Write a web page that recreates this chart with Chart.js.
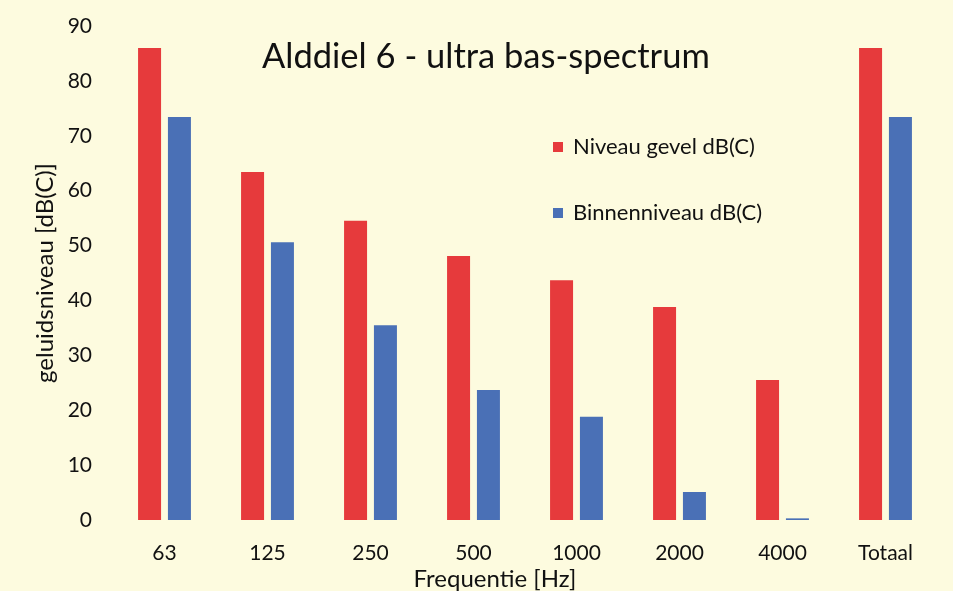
<!DOCTYPE html>
<html lang="nl">
<head>
  <meta charset="UTF-8">
  <title>Alddiel 6 - ultra bas-spectrum</title>
  <script src="https://cdn.jsdelivr.net/npm/chart.js"></script>
  <style>
    html, body { margin: 0; padding: 0; background: #fdfbdf; }
    .wrap { position: relative; width: 953px; height: 591px; font-family: Lato, "Open Sans", sans-serif; color: #111; }
    canvas { position: absolute; left: 0; top: 0; }
    .titel { position: absolute; left: 262px; top: 34px; font-size: 34.5px; line-height: 41px; white-space: nowrap; }
    .legenda { position: absolute; left: 553px; font-size: 22px; white-space: nowrap; line-height: 24px; }
    .legenda span { display: inline-block; width: 10px; height: 10px; margin-right: 10px; vertical-align: 2px; }
    .xtitel { position: absolute; left: 0; width: 990px; text-align: center; top: 564px; font-size: 24px; line-height: 28px; }
  </style>
</head>
<body>
  <div class="wrap">
    <canvas id="grafiek" width="953" height="591"></canvas>
    <div class="titel">Alddiel 6 - ultra bas-spectrum</div>
    <div class="legenda" style="top:134px"><span style="background:#e63a3c"></span>Niveau gevel dB(C)</div>
    <div class="legenda" style="top:200px"><span style="background:#4a70b6"></span>Binnenniveau dB(C)</div>
    <div class="xtitel">Frequentie [Hz]</div>
  </div>

  <script>
    // data
    const frequenties = ['63', '125', '250', '500', '1000', '2000', '4000', 'Totaal'];
    const niveauGevel = [86, 63.4, 54.5, 48.1, 43.7, 38.8, 25.5, 86];
    const binnenNiveau = [73.4, 50.6, 35.5, 23.7, 18.8, 5.1, 0.3, 73.4];
    const yTicks = [0, 10, 20, 30, 40, 50, 60, 70, 80, 90];

    const tickFont = { family: 'Lato, "Open Sans", sans-serif', size: 21 };
    const titelFont = { family: 'Lato, "Open Sans", sans-serif', size: 24 };

    new Chart(document.getElementById('grafiek'), {
      type: 'bar',
      data: {
        labels: frequenties,
        datasets: [
          { label: 'Niveau gevel dB(C)', data: niveauGevel, backgroundColor: '#e63a3c' },
          { label: 'Binnenniveau dB(C)', data: binnenNiveau, backgroundColor: '#4a70b6' }
        ]
      },
      options: {
        responsive: false,
        animation: false,
        layout: { padding: { top: 26, right: 16, left: 0, bottom: 0 } },
        datasets: { bar: { categoryPercentage: 0.58, barPercentage: 0.77 } },
        plugins: {
          legend: { display: false },
          tooltip: { enabled: false }
        },
        scales: {
          x: {
            grid: { display: false, drawTicks: false },
            border: { display: false },
            ticks: { color: '#111', font: tickFont, padding: 21 },
            afterFit: s => { s.height = 71; }
          },
          y: {
            min: 0,
            max: 90,
            grid: { display: false, drawTicks: false },
            border: { display: false },
            afterBuildTicks: s => { s.ticks = yTicks.map(v => ({ value: v })); },
            ticks: { color: '#111', font: tickFont, padding: 21 },
            title: { display: true, text: 'geluidsniveau [dB(C)]', color: '#111', font: titelFont, padding: { top: 31, bottom: 0 } },
            afterFit: s => { s.width = 113; s.paddingTop = 0; s.paddingBottom = 0; }
          }
        }
      }
    });
  </script>
</body>
</html>
